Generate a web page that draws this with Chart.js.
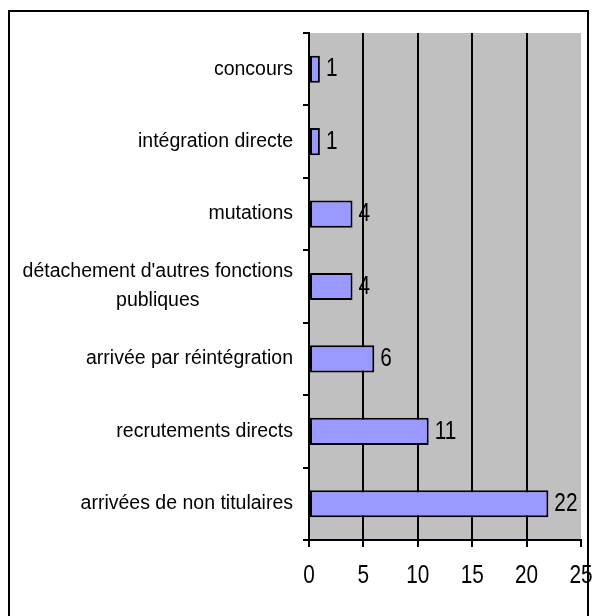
<!DOCTYPE html>
<html>
<head>
<meta charset="utf-8">
<script src="https://cdn.jsdelivr.net/npm/chart.js@4.4.1/dist/chart.umd.min.js"></script>
<style>
  body { margin: 0; background: #fff; }
  #cadre { position: absolute; left: 8px; top: 10px; width: 577px; height: 640px; border: 2px solid #000; }
  #graph { position: absolute; left: 0; top: 0; }
</style>
</head>
<body>
<div id="cadre"></div>
<canvas id="graph" width="592" height="616"></canvas>
<script>
// modes d'arrivée (du haut vers le bas)
var categories = [
  'concours',
  'intégration directe',
  'mutations',
  ["détachement d'autres fonctions", 'publiques'],
  'arrivée par réintégration',
  'recrutements directs',
  'arrivées de non titulaires'
];
var effectifs = [1, 1, 4, 4, 6, 11, 22];
var xTicks = [0, 5, 10, 15, 20, 25];

var police = "'Liberation Sans', Arial, sans-serif";

// texte étroit (chiffres compressés horizontalement)
function texteEtroit(ctx, txt, x, y, align) {
  ctx.save();
  ctx.font = '26px ' + police;
  ctx.fillStyle = '#000';
  ctx.textAlign = align;
  ctx.textBaseline = 'middle';
  ctx.translate(x, y);
  ctx.scale(0.8, 1);
  ctx.fillText(txt, 0, 0);
  ctx.restore();
}

// fond gris de la zone de tracé
var fondGris = {
  id: 'fondGris',
  beforeDraw: function(chart) {
    var a = chart.chartArea, ctx = chart.ctx;
    ctx.save();
    ctx.fillStyle = '#c0c0c0';
    ctx.fillRect(a.left, a.top, a.right - a.left, a.bottom - a.top);
    ctx.restore();
  }
};

// libellés des catégories : bloc aligné à droite, lignes centrées dans le bloc
var libelles = {
  id: 'libelles',
  afterDraw: function(chart) {
    var ctx = chart.ctx, y = chart.scales.y, x = chart.scales.x;
    var droite = y.right - 16;
    ctx.save();
    ctx.font = '19.5px ' + police;
    ctx.fillStyle = '#000';
    ctx.textAlign = 'center';
    ctx.textBaseline = 'middle';
    categories.forEach(function(lab, i) {
      var lignes = Array.isArray(lab) ? lab : [lab];
      var larg = Math.max.apply(null, lignes.map(function(l) { return ctx.measureText(l).width; }));
      var cx = droite - larg / 2;
      var py = y.getPixelForTick(i);
      var h = 29;
      var y0 = py - (lignes.length - 1) * h / 2;
      lignes.forEach(function(l, k) { ctx.fillText(l, cx, y0 + k * h); });
    });
    ctx.restore();
    // graduations de l'axe des valeurs
    xTicks.forEach(function(v) {
      texteEtroit(ctx, String(v), x.getPixelForValue(v), x.top + 36, 'center');
    });
  }
};

// valeurs à droite des barres
var valeurs = {
  id: 'valeurs',
  afterDatasetsDraw: function(chart) {
    var meta = chart.getDatasetMeta(0);
    meta.data.forEach(function(bar, i) {
      texteEtroit(chart.ctx, String(effectifs[i]), bar.x + 6, bar.y, 'left');
    });
  }
};

new Chart(document.getElementById('graph'), {
  type: 'bar',
  data: {
    labels: categories,
    datasets: [{
      data: effectifs,
      backgroundColor: '#9999ff',
      borderColor: '#000',
      borderWidth: 2,
      borderSkipped: false,
      categoryPercentage: 1,
      barPercentage: 0.375
    }]
  },
  options: {
    indexAxis: 'y',
    responsive: false,
    animation: false,
    layout: { padding: { top: 33, right: 11, left: 0, bottom: 0 } },
    plugins: { legend: { display: false }, tooltip: { enabled: false } },
    scales: {
      x: {
        min: 0,
        max: 25,
        afterBuildTicks: function(s) { s.ticks = xTicks.map(function(v) { return { value: v }; }); },
        afterFit: function(s) { s.height = 76; },
        ticks: { display: false },
        grid: {
          color: function(c) { return c.tick && c.tick.value === 25 ? 'rgba(0,0,0,0)' : '#000'; },
          tickColor: '#000',
          lineWidth: 2,
          tickLength: 7
        },
        border: { color: '#000', width: 2 }
      },
      y: {
        afterFit: function(s) { s.width = 309; },
        ticks: { display: false },
        grid: { drawOnChartArea: false, color: '#000', lineWidth: 2, tickLength: 6, offset: true },
        border: { color: '#000', width: 2 }
      }
    }
  },
  plugins: [fondGris, libelles, valeurs]
});
</script>
</body>
</html>
